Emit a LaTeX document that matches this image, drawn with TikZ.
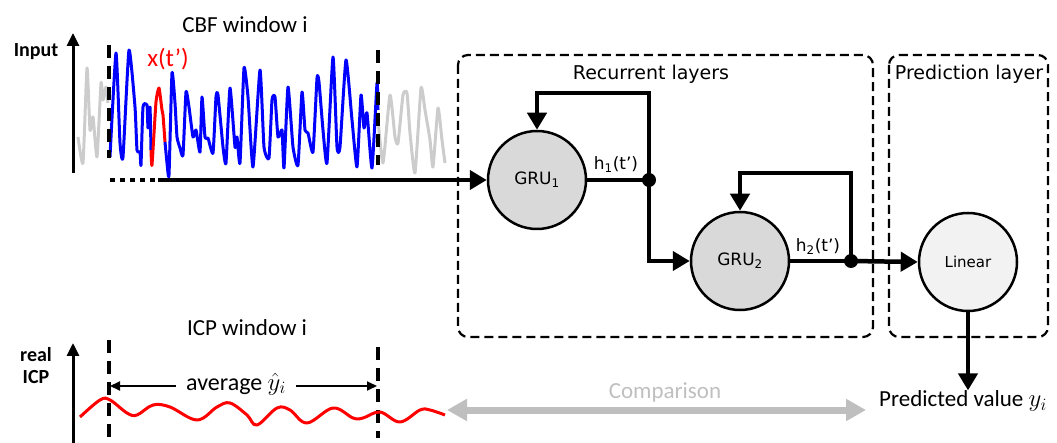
\documentclass[tikz,border=0pt]{standalone}
\usepackage{fontspec}
\setmainfont{Carlito}
\newfontfamily\tahoma{DejaVu Sans}
\usetikzlibrary{arrows.meta}

\definecolor{grufill}{gray}{0.85}
\definecolor{linfill}{gray}{0.95}
\definecolor{cmpgray}{gray}{0.75}
\definecolor{siggray}{gray}{0.8}

\tikzset{
	unit/.style={circle, draw, line width=2.5pt, minimum size=98pt, inner sep=0pt, font=\tahoma\fontsize{17}{20}\selectfont},
	flow/.style={line width=4.5pt, -{Triangle[length=17pt,width=19pt]}},
	wire/.style={line width=4.5pt},
	joint/.style={circle, fill=black, minimum size=14pt, inner sep=0pt},
	layerbox/.style={line width=2.2pt, rounded corners=10pt, dash pattern=on 9pt off 5pt},
	winline/.style={line width=3.8pt, dash pattern=on 13pt off 8pt},
	axis/.style={line width=3pt, -{Triangle[length=13pt,width=12pt]}},
	lbl/.style={font=\fontsize{23}{26}\selectfont, inner sep=0pt},
	sig/.style={line width=3pt, line join=round},
}

\begin{document}
\begin{tikzpicture}[x=1pt, y=-1pt]
	\useasboundingbox (0,0) rectangle (1057,443);
	%%%%% START %%%%%
	% input window (CBF)
	\node[lbl] (cbftitle) at (245,25) {CBF window i};
	\node[lbl, font=\bfseries\fontsize{20}{24}\selectfont] (inlbl) at (36,52) {Input};
	\draw[axis] (73,173) -- (73,33);
	
	\draw[sig, siggray] plot[smooth, tension=0.3] coordinates {(78,137) (83,163) (87,68) (90,130) (93,117) (97,157) (101,83) (103,100) (106,87) (108,103)};
	\draw[sig, siggray] plot[smooth, tension=0.3] coordinates {(378,120) (383,163) (390,95) (395,137) (398,143) (403,95) (407,93) (410,133) (415,173) (421,88) (425,110) (430,140) (433,167) (438,108) (442,140) (445,163)};
	\draw[sig, blue] plot[smooth, tension=0.3] coordinates {(110,157) (116,53) (120,143) (123,157) (129,50) (135,107) (137,150) (140,152) (141,165) (143,107) (147,105) (148,128) (150,107) (151,150)};
	\draw[sig, red] plot[smooth, tension=0.3] coordinates {(151,150) (152,165) (156,102) (159,88) (162,110) (163,115) (165,142)};
	\draw[sig, blue] plot[smooth, tension=0.3] coordinates {(165,142) (167,163) (169,175) (172,73) (175,103) (177,137) (180,148) (183,155) (186,92) (189,107) (193,137) (196,130) (200,152) (202,97) (205,137) (208,138) (213,153) (216,97) (218,95) (223,147) (226,163) (230,88) (235,147) (237,137) (240,163) (244,68) (248,97) (253,167) (260,70) (264,147) (269,158) (272,100) (275,97) (278,137) (282,130) (284,168) (288,87) (293,147) (298,165) (302,92) (305,130) (308,133) (313,152) (317,78) (319,82) (323,130) (327,163) (333,57) (337,147) (340,147) (346,60) (352,120) (357,167) (361,95) (364,128) (367,113) (372,168) (377,83) (378,110)};
	\node[lbl, red, font=\fontsize{25}{28}\selectfont] (xt) at (168,59) {x(t’)};
	
	\draw[winline] (109,45) -- (109,158);
	\draw[winline] (378,50) -- (378,165);
	
	% recurrent part
	\draw[layerbox] (458,55) rectangle (873,337);
	\node[font=\tahoma\fontsize{19}{22}\selectfont] (rectitle) at (651,74) {Recurrent layers};
	\node[unit, fill=grufill] (gru1) at (537,180) {GRU\textsubscript{1}};
	\node[unit, fill=grufill] (gru2) at (740,261) {GRU\textsubscript{2}};
	\node[joint] (d1) at (649,180) {};
	\node[joint] (d2) at (851,261) {};
	\coordinate (fb1) at (649,93);
	\coordinate (fb2) at (851,173);
	
	\coordinate (dots) at (110,180);
	\coordinate (in) at (158,180);
	\draw[wire, dash pattern=on 5pt off 5pt] (dots) -- (in);
	\draw[flow] (in) -- (gru1.west);
	
	\draw[wire] (gru1) -- (d1.center);
	\draw[flow] (d1.center) -- (fb1) -| (gru1.north);
	\draw[flow] (d1.center) |- (gru2.west);
	\node[font=\tahoma\fontsize{17}{20}\selectfont, anchor=south] (h1) at (616,176) {h\textsubscript{1}(t’)};
	
	\draw[wire] (gru2) -- (d2.center);
	\draw[flow] (d2.center) -- (fb2) -| (gru2.north);
	\node[font=\tahoma\fontsize{17}{20}\selectfont, anchor=south] (h2) at (818,258) {h\textsubscript{2}(t’)};
	
	% prediction part
	\draw[layerbox] (889,55) rectangle (1048,337);
	\node[font=\tahoma\fontsize{19}{22}\selectfont] (predtitle) at (969,74) {Prediction layer};
	\node[unit, fill=linfill, font=\tahoma\fontsize{15}{18}\selectfont] (lin) at (968,262) {Linear};
	\draw[flow] (d2.center) -- (lin.west);
	\node[lbl] (pred) at (963,401) {Predicted value $y_i$};
	\draw[flow] (lin.south) -- (lin.south|-pred.north);
	
	% target window (ICP)
	\node[lbl] (icptitle) at (247,328) {ICP window i};
	\node[lbl, font=\bfseries\fontsize{20}{24}\selectfont, align=center] (icplbl) at (36,366) {real\\[-2pt]ICP};
	\draw[axis] (73,443) -- (73,343);
	\draw[winline] (109,340) -- (109,443);
	\draw[winline] (378,347) -- (378,438);
	\draw[line width=3pt, red, line join=round] plot[smooth, tension=0.6] coordinates {(80,417) (100,400) (110,400) (127,413) (137,415) (153,405) (170,407) (197,420) (217,407) (230,403) (247,415) (257,425) (277,408) (290,410) (307,423) (333,408) (353,418) (363,418) (380,412) (400,422) (420,410) (430,410) (445,415)};
	
	\node[lbl, font=\fontsize{24}{27}\selectfont] (avg) at (236,384) {average $\hat{y}_i$};
	\coordinate (avgL) at (110,386);
	\coordinate (avgR) at (377,386);
	\draw[line width=2pt, -{Triangle[length=10pt,width=9pt]}] ([xshift=-10pt]avg.west|-avgL) -- (avgL);
	\draw[line width=2pt, -{Triangle[length=10pt,width=9pt]}] ([xshift=10pt]avg.east|-avgR) -- (avgR);
	
	% comparison
	\coordinate (cmpL) at (447,410);
	\coordinate (cmpR) at (866,410);
	\draw[cmpgray, line width=7pt, {Triangle[length=20pt,width=21pt]}-{Triangle[length=20pt,width=21pt]}] (cmpL) -- (cmpR);
	\node[lbl, cmpgray] (cmp) at (665,392) {Comparison};
	%%%%% END %%%%%
\end{tikzpicture}
\end{document}
